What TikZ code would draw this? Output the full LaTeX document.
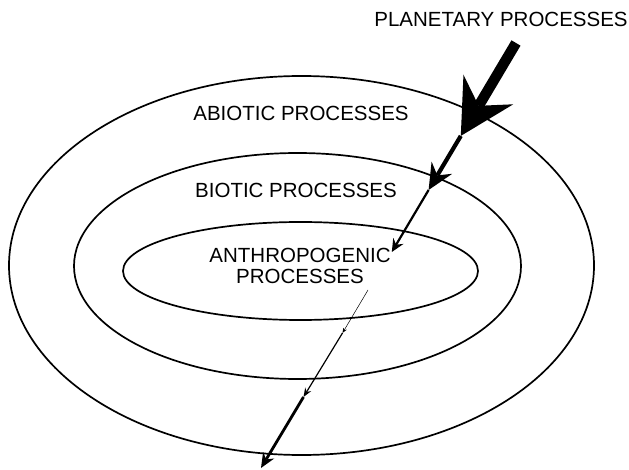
\documentclass[tikz,border=0pt]{standalone}
\usepackage{fontspec}
\setmainfont{Liberation Sans}
\usetikzlibrary{arrows.meta,shapes.geometric}
\begin{document}
\begin{tikzpicture}[x=1pt,y=-1pt,
  ring/.style={draw, ellipse, line width=1.7pt, inner sep=0pt},
  lbl/.style={font=\fontsize{20.5}{21.5}\selectfont, inner sep=0pt, align=center},
  bigarrow/.style={line width=10.5pt, -{Stealth[length=54pt,width=58pt,inset=19pt,line width=0pt]}},
  midarrow/.style={line width=4.2pt, -{Stealth[length=26pt,width=24pt,inset=9pt,line width=0pt]}},
  smallarrow/.style={line width=2.2pt, -{Stealth[length=13pt,width=12pt,inset=4.5pt,line width=0pt]}},
  hairarrow/.style={line width=0.5pt, -{Stealth[length=5pt,width=4pt,inset=1.5pt,line width=0pt]}},
  thinarrow/.style={line width=1.2pt, -{Stealth[length=9pt,width=7pt,inset=3pt,line width=0pt]}},
  lowarrow/.style={line width=2.8pt, -{Stealth[length=15pt,width=13pt,inset=5pt,line width=0pt]}}
]
\useasboundingbox (0,0) rectangle (629,470);
\fill[white] (0,0) rectangle (629,470);

\node[ring, minimum width=585pt, minimum height=379pt] (abioticring) at (301.5,265.5) {};
\node[ring, minimum width=447pt, minimum height=226pt] (bioticring) at (297.5,266) {};
\node[ring, minimum width=355pt, minimum height=98pt] (anthroring) at (300.5,271) {};

\node[lbl] (planet) at (501,19.5) {PLANETARY PROCESSES};
\node[lbl] (abiotic) at (301,113.5) {ABIOTIC PROCESSES};
\node[lbl] (biotic) at (296,190.5) {BIOTIC PROCESSES};
\node[lbl] (anthro) at (300,266) {ANTHROPOGENIC\\PROCESSES};

\coordinate (s) at (516,43);
\coordinate (t1) at (460.8,135.9);
\coordinate (t2) at (428.6,190);
\coordinate (t3) at (391.8,252);
\coordinate (l0) at (368,290);
\coordinate (l1) at (342.5,333);
\coordinate (l2) at (303.5,397);
\coordinate (l3) at (261,468);

\draw[bigarrow] (s) -- (t1);
\draw[midarrow] (t1) -- (t2);
\draw[smallarrow] (t2) -- (t3);
\draw[hairarrow] (l0) -- (l1);
\draw[thinarrow] (l1) -- (l2);
\draw[lowarrow] (l2) -- (l3);
\end{tikzpicture}
\end{document}
